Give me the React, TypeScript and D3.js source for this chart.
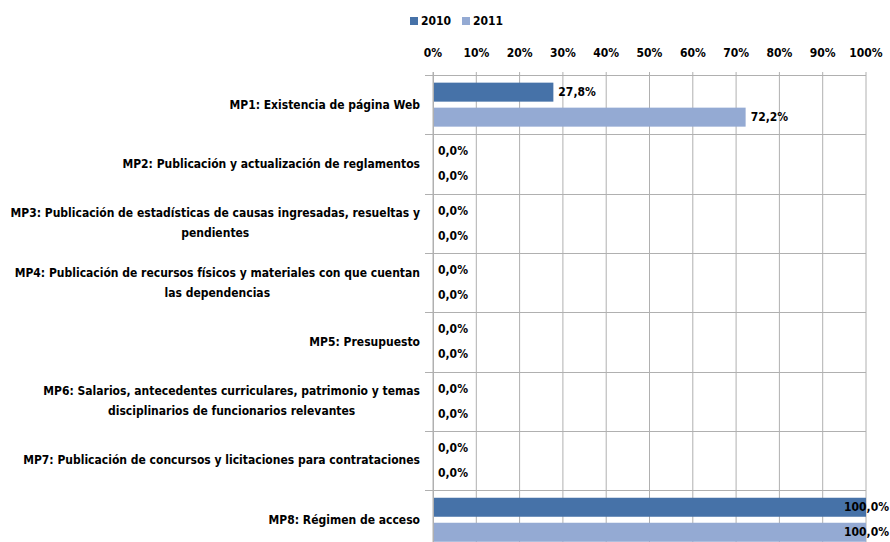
import React, { useEffect, useRef } from "react";
import * as d3 from "d3";

const categories = [
  "MP1: Existencia de página Web",
  "MP2: Publicación y actualización de reglamentos",
  "MP3: Publicación de estadísticas de causas ingresadas, resueltas y|pendientes",
  "MP4: Publicación de recursos físicos y materiales con que cuentan|las dependencias",
  "MP5: Presupuesto",
  "MP6: Salarios, antecedentes curriculares, patrimonio y temas|disciplinarios de funcionarios relevantes",
  "MP7: Publicación de concursos y licitaciones para contrataciones",
  "MP8: Régimen de acceso",
];
const seriesNames = ["2010", "2011"];
const values2010 = [27.8, 0, 0, 0, 0, 0, 0, 100];
const values2011 = [72.2, 0, 0, 0, 0, 0, 0, 100];
const tickValues = [0, 10, 20, 30, 40, 50, 60, 70, 80, 90, 100];
const colors = ["#4672a8", "#94aad3"];

const W = 890;
const H = 542;
const FONT = "'DejaVu Sans Condensed', 'Liberation Sans Narrow', sans-serif";

export default function App() {
  const ref = useRef<SVGSVGElement>(null);
  useEffect(() => {
    const svg = d3.select(ref.current);
    svg.selectAll("*").remove();
    const x0 = 433, x1 = 866, yTop = 75, band = 59.3;
    const x = d3.scaleLinear().domain([0, 100]).range([x0, x1]);
    const y = d3.scaleBand<number>().domain(d3.range(categories.length)).range([yTop, yTop + band * categories.length]).padding(0);
    const ys = d3.scaleBand<string>().domain(seriesNames).range([0, y.bandwidth()]).paddingInner(0.24).paddingOuter(0.306);
    const grid = "#b0b0b0";

    svg.append("g").selectAll("line").data(tickValues).join("line")
      .attr("x1", (d) => x(d)).attr("x2", (d) => x(d))
      .attr("y1", 72).attr("y2", H)
      .attr("stroke", grid).attr("stroke-width", 1);
    svg.append("g").selectAll("line").data(d3.range(categories.length + 1)).join("line")
      .attr("x1", 425).attr("x2", x1)
      .attr("y1", (i) => Math.round(yTop + i * band) + 0.5).attr("y2", (i) => Math.round(yTop + i * band) + 0.5)
      .attr("stroke", grid).attr("stroke-width", 1);

    svg.append("g").selectAll("text").data(tickValues).join("text")
      .attr("x", (d) => x(d)).attr("y", 57)
      .attr("text-anchor", "middle")
      .attr("font-family", FONT).attr("font-weight", "bold").attr("font-size", 12)
      .attr("fill", "#000")
      .text((d) => d + "%");

    const series = [values2010, values2011];
    series.forEach((vals, si) => {
      const g = svg.append("g");
      g.selectAll("rect").data(vals).join("rect")
        .attr("x", x(0)).attr("y", (_, i) => (y(i) as number) + (ys(seriesNames[si]) as number))
        .attr("width", (d) => x(d) - x(0)).attr("height", ys.bandwidth())
        .attr("fill", colors[si]);
      g.selectAll("text").data(vals).join("text")
        .attr("y", (_, i) => (y(i) as number) + (ys(seriesNames[si]) as number) + ys.bandwidth() / 2 + 4)
        .attr("font-family", FONT).attr("font-weight", "bold").attr("font-size", 12)
        .attr("fill", "#000")
        .text((d) => d.toFixed(1).replace(".", ",") + "%")
        .each(function (d) {
          const el = this as SVGTextContentElement;
          const w = el.getComputedTextLength();
          el.setAttribute("x", String(Math.min(x(d) + 5, W - w - 1)));
        });
    });

    svg.append("line").attr("x1", x0 + 0.5).attr("x2", x0 + 0.5).attr("y1", 72).attr("y2", H)
      .attr("stroke", grid);

    const labelRight = 420;
    categories.forEach((c, i) => {
      const lines = c.split("|");
      const cy = (y(i) as number) + y.bandwidth() / 2;
      const t = svg.append("text")
        .attr("font-family", FONT).attr("font-weight", "bold").attr("font-size", 12)
        .attr("fill", "#000");
      if (lines.length === 1) {
        t.attr("x", labelRight).attr("y", cy + 4).attr("text-anchor", "end").text(lines[0]);
      } else {
        const first = t.append("tspan").attr("text-anchor", "end").attr("x", labelRight).attr("y", cy - 6).text(lines[0]);
        const w = (first.node() as SVGTextContentElement).getComputedTextLength();
        t.append("tspan").attr("text-anchor", "middle").attr("x", labelRight - w / 2).attr("y", cy + 14).text(lines[1]);
      }
    });

    const lg = svg.append("g");
    seriesNames.forEach((s, i) => {
      const lx = 410 + i * 52;
      lg.append("rect").attr("x", lx).attr("y", 17).attr("width", 8).attr("height", 8).attr("fill", colors[i]);
      lg.append("text").attr("x", lx + 11).attr("y", 25)
        .attr("font-family", FONT).attr("font-weight", "bold").attr("font-size", 12)
        .attr("fill", "#000").text(s);
    });
  }, []);
  return (
    <svg ref={ref} width={W} height={H} style={{ position: "absolute", left: 0, top: 0, background: "#fff" }} />
  );
}
